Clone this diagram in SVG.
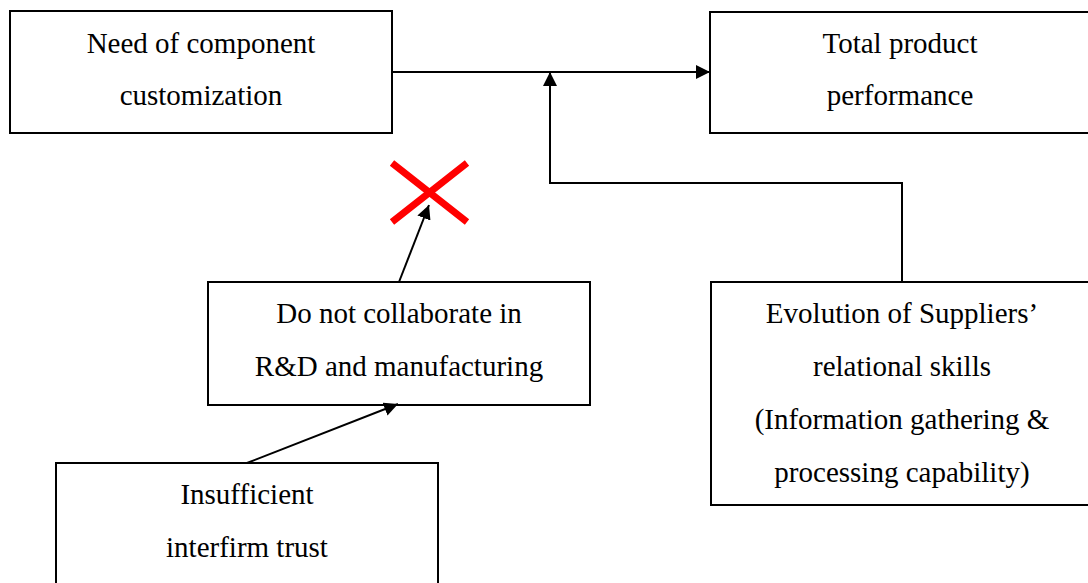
<svg xmlns="http://www.w3.org/2000/svg" width="1088" height="583" viewBox="0 0 1088 583">
<style>
.box{fill:#fff;stroke:#000;stroke-width:2}
.t{font-family:"Liberation Serif","Times New Roman",serif;font-size:29px;fill:#000;text-anchor:middle}
.c{stroke:#000;stroke-width:2;fill:none}
</style>
<defs>
<marker id="ah" markerWidth="14" markerHeight="14" refX="14" refY="7" orient="auto" markerUnits="userSpaceOnUse">
<path d="M0,0 L14,7 L0,14 Z" fill="#000"/>
</marker>
</defs>
<rect width="1088" height="583" fill="#fff"/>
<g id="n1"><rect class="box" x="10" y="11" width="382" height="122"/>
<text class="t" x="201" y="53">Need of component</text><text class="t" x="201" y="105">customization</text></g>
<g id="n2"><rect class="box" x="710" y="12" width="381" height="121"/>
<text class="t" x="900" y="53">Total product</text><text class="t" x="900" y="105">performance</text></g>
<g id="n3"><rect class="box" x="208" y="282" width="382" height="123"/>
<text class="t" x="399" y="323">Do not collaborate in</text><text class="t" x="399" y="376">R&amp;D and manufacturing</text></g>
<g id="n4"><rect class="box" x="711" y="282" width="380" height="223"/>
<text class="t" x="902" y="323">Evolution of Suppliers’</text><text class="t" x="902" y="376">relational skills</text><text class="t" x="902" y="429">(Information gathering &amp;</text><text class="t" x="902" y="482">processing capability)</text></g>
<g id="n5"><rect class="box" x="56" y="463" width="382" height="130"/>
<text class="t" x="247" y="504">Insufficient</text><text class="t" x="247" y="557">interfirm trust</text></g>
<g id="x"><path d="M392,163 L467,222 M467,163 L392,222" stroke="#ff0000" stroke-width="7" fill="none"/></g>
<g id="connectors">
<path class="c" d="M392,72 L710,72" marker-end="url(#ah)"/>
<path class="c" d="M902,282 L902,183 L550,183 L550,72" marker-end="url(#ah)"/>
<path class="c" d="M399,282 L429,205" marker-end="url(#ah)"/>
<path class="c" d="M247,463 L398,404" marker-end="url(#ah)"/>
</g>
</svg>
